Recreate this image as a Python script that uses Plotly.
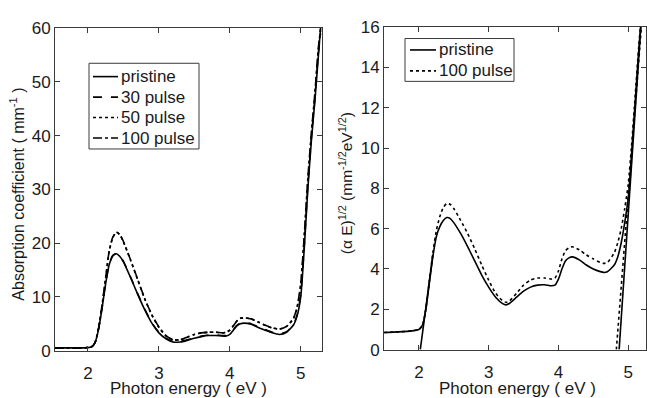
import plotly.graph_objects as go

# ---------------- data ----------------
energy_left = [1.53, 1.7, 1.9, 2.0, 2.05, 2.1, 2.15, 2.2, 2.25, 2.3, 2.35, 2.4, 2.45, 2.5,
               2.6, 2.7, 2.8, 2.9, 3.0, 3.1, 3.2, 3.3, 3.4, 3.5, 3.6, 3.7, 3.8, 3.9, 3.95,
               4.0, 4.05, 4.1, 4.15, 4.2, 4.3, 4.4, 4.5, 4.6, 4.7, 4.8, 4.9, 4.95, 5.0, 5.05,
               5.1, 5.15, 5.2, 5.25, 5.28]
alpha_pristine = [0.5, 0.5, 0.5, 0.55, 0.7, 1.5, 4.0, 8.0, 12.5, 16.0, 17.6, 18.0, 17.5, 16.5,
                  13.6, 10.5, 7.6, 5.1, 3.3, 2.2, 1.6, 1.6, 1.9, 2.3, 2.6, 2.8, 2.8, 2.7, 2.7,
                  3.0, 3.8, 4.6, 5.0, 5.1, 4.9, 4.3, 3.8, 3.3, 3.0, 3.4, 4.8, 6.5, 10.0, 19.0,
                  30.0, 39.0, 46.5, 55.0, 60.0]
alpha_30 = [0.5, 0.5, 0.5, 0.55, 0.7, 1.5, 4.1, 8.1, 12.6, 16.1, 17.7, 18.0, 17.6, 16.6,
            13.7, 10.6, 7.7, 5.2, 3.4, 2.3, 1.7, 1.7, 2.0, 2.4, 2.7, 2.9, 2.9, 2.8, 2.8,
            3.1, 3.9, 4.7, 5.1, 5.2, 5.0, 4.4, 3.9, 3.4, 3.1, 3.5, 4.9, 6.7, 10.5, 19.5,
            30.5, 39.5, 47.0, 55.5, 59.0]
alpha_50 = [0.5, 0.5, 0.5, 0.55, 0.7, 1.5, 4.2, 8.5, 13.5, 18.5, 21.0, 22.0, 21.5, 20.2,
            16.8, 13.2, 9.6, 6.6, 4.3, 2.7, 2.0, 2.0, 2.5, 3.0, 3.3, 3.4, 3.4, 3.3, 3.4,
            3.8, 4.6, 5.5, 6.0, 6.1, 5.9, 5.3, 4.7, 4.2, 4.0, 4.5, 6.0, 8.0, 12.0, 21.0,
            31.5, 40.0, 47.5, 56.0, 60.0]
alpha_100 = [0.5, 0.5, 0.5, 0.55, 0.7, 1.5, 4.2, 8.6, 13.6, 18.6, 21.1, 22.0, 21.6, 20.3,
             16.9, 13.3, 9.7, 6.7, 4.4, 2.8, 2.0, 2.0, 2.5, 3.0, 3.3, 3.4, 3.4, 3.3, 3.4,
             3.8, 4.6, 5.5, 6.0, 6.1, 5.9, 5.3, 4.7, 4.2, 4.0, 4.5, 6.1, 8.2, 12.5, 21.5,
             32.0, 40.5, 48.0, 56.5, 59.5]

energy_right = [1.5, 1.7, 1.9, 2.0, 2.05, 2.1, 2.15, 2.2, 2.25, 2.3, 2.35, 2.4, 2.45, 2.5,
                2.6, 2.7, 2.8, 2.9, 3.0, 3.1, 3.2, 3.25, 3.3, 3.4, 3.5, 3.6, 3.7, 3.8, 3.9,
                3.95, 4.0, 4.05, 4.1, 4.15, 4.2, 4.3, 4.4, 4.5, 4.6, 4.65, 4.7, 4.8, 4.85,
                4.9, 4.95, 5.0, 5.05, 5.1, 5.15, 5.2]
tauc_pristine = [0.85, 0.88, 0.93, 1.0, 1.2, 2.0, 3.3, 4.6, 5.6, 6.1, 6.4, 6.55, 6.5, 6.3,
                 5.75, 5.1, 4.4, 3.7, 3.1, 2.6, 2.28, 2.22, 2.3, 2.6, 2.9, 3.1, 3.2, 3.22, 3.17,
                 3.2, 3.5, 4.0, 4.4, 4.55, 4.6, 4.45, 4.2, 4.0, 3.87, 3.83, 3.86, 4.2, 4.6,
                 5.3, 6.3, 7.5, 9.8, 12.3, 14.8, 17.0]
tauc_100 = [0.85, 0.88, 0.93, 1.0, 1.2, 2.0, 3.4, 4.8, 5.9, 6.6, 7.05, 7.25, 7.2, 7.0,
            6.4, 5.75, 5.0, 4.2, 3.45, 2.8, 2.42, 2.35, 2.42, 2.8, 3.2, 3.45, 3.55, 3.55, 3.5,
            3.55, 3.9, 4.5, 4.9, 5.05, 5.1, 4.95, 4.7, 4.5, 4.32, 4.28, 4.32, 4.8, 5.3,
            6.0, 7.0, 8.2, 10.2, 12.6, 15.0, 17.0]

# linear fits (tangent lines)
fit_low_e = [2.02, 2.2]
fit_low_v = [0.0, 4.7]
fit_high_e = [4.87, 5.2]
fit_high_v = [0.0, 17.0]
fit_high100_e = [4.83, 5.2]
fit_high100_v = [0.0, 16.5]

x_ticks = [2, 3, 4, 5]
y_ticks_left = [0, 10, 20, 30, 40, 50, 60]
y_ticks_right = [0, 2, 4, 6, 8, 10, 12, 14, 16]

# ---------------- figure ----------------
W, H = 647, 398
FONT = "Liberation Sans, Arial, sans-serif"
FS = 17
INK = "#1a1a1a"
AX = "#3a3a3a"
LW = 1.6

fig = go.Figure()

left_series = [("pristine", alpha_pristine, "solid"),
               ("30 pulse", alpha_30, "dash"),
               ("50 pulse", alpha_50, "dot"),
               ("100 pulse", alpha_100, "dashdot")]
for name, ys, dash in left_series:
    fig.add_trace(go.Scatter(x=energy_left, y=ys, mode="lines", name=name, showlegend=False,
                             line=dict(color="black", width=LW, dash=dash, shape="spline", smoothing=0.6),
                             xaxis="x", yaxis="y"))

right_series = [("pristine", tauc_pristine, "solid"),
                ("100 pulse", tauc_100, "dot")]
for name, ys, dash in right_series:
    fig.add_trace(go.Scatter(x=energy_right, y=ys, mode="lines", name=name, showlegend=False,
                             line=dict(color="black", width=LW, dash=dash, shape="spline", smoothing=0.6),
                             xaxis="x2", yaxis="y2"))

for fe, fv, dash in [(fit_low_e, fit_low_v, "solid"), (fit_high_e, fit_high_v, "solid"),
                     (fit_high100_e, fit_high100_v, "dot")]:
    fig.add_trace(go.Scatter(x=fe, y=fv, mode="lines", showlegend=False,
                             line=dict(color="black", width=LW, dash=dash), xaxis="x2", yaxis="y2"))

def px_x(p):
    return p / W

def px_y(p):
    return 1 - p / H

axis_common = dict(showline=True, linecolor=AX, linewidth=1, mirror="ticks",
                   ticks="inside", ticklen=5, tickcolor=AX, showgrid=False, zeroline=False,
                   tickfont=dict(family=FONT, size=FS, color=INK))

fig.update_layout(
    width=W, height=H,
    margin=dict(l=0, r=0, t=0, b=0),
    paper_bgcolor="white", plot_bgcolor="white",
    font=dict(family=FONT, size=FS, color=INK),
    showlegend=False,
    xaxis=dict(domain=[px_x(55), px_x(322)], range=[1.535, 5.3], tickvals=x_ticks,
               anchor="y", ticklabelstandoff=7, **axis_common),
    yaxis=dict(domain=[px_y(358.7), px_y(20)], range=[0, 60], tickvals=y_ticks_left,
               anchor="x", **axis_common),
    xaxis2=dict(domain=[px_x(384), px_x(646)], range=[1.5, 5.255], tickvals=x_ticks,
                anchor="y2", ticklabelstandoff=7, **axis_common),
    yaxis2=dict(domain=[px_y(357.7), px_y(19)], range=[0, 16], tickvals=y_ticks_right,
                anchor="x2", **axis_common),
)

shapes = []
annotations = []

def add_legend(box, sample_x0, sample_x1, text_x, ys, series):
    x0, y0, x1, y1 = box
    shapes.append(dict(type="rect", xref="paper", yref="paper",
                       x0=px_x(x0), x1=px_x(x1), y0=px_y(y1), y1=px_y(y0),
                       line=dict(color=AX, width=1), fillcolor="white", layer="above"))
    for (name, _, dash), yc in zip(series, ys):
        shapes.append(dict(type="line", xref="paper", yref="paper",
                           x0=px_x(sample_x0), x1=px_x(sample_x1), y0=px_y(yc), y1=px_y(yc),
                           line=dict(color="black", width=LW, dash=dash), layer="above"))
        annotations.append(dict(text=name, x=px_x(text_x), y=px_y(yc), xref="paper", yref="paper",
                                showarrow=False, xanchor="left", yanchor="middle",
                                font=dict(size=FS, color=INK)))

add_legend((89, 57, 199, 147), 93, 118, 119, [71, 92.5, 114, 135.5], left_series)
add_legend((405, 31, 514, 76), 410, 436, 437, [43, 65], right_series)

annotations += [
    dict(text="Photon energy ( eV )", x=px_x(188), y=0, xref="paper", yref="paper",
         showarrow=False, xanchor="center", yanchor="middle", font=dict(size=FS)),
    dict(text="Photon energy ( eV )", x=px_x(517), y=0, xref="paper", yref="paper",
         showarrow=False, xanchor="center", yanchor="middle", font=dict(size=FS)),
    dict(text="Absorption coefficient ( mm<sup>-1</sup> )", x=px_x(17), y=px_y(195),
         xref="paper", yref="paper", showarrow=False, textangle=-90,
         xanchor="center", yanchor="middle", font=dict(size=16)),
    dict(text="(\u03b1 E)<sup>1/2</sup> (mm<sup>-1/2</sup>eV<sup>1/2</sup>)", x=px_x(346), y=px_y(183),
         xref="paper", yref="paper", showarrow=False, textangle=-90,
         xanchor="center", yanchor="middle", font=dict(size=15.5)),
]
fig.update_layout(shapes=shapes, annotations=annotations)

fig.write_html("out.html")
